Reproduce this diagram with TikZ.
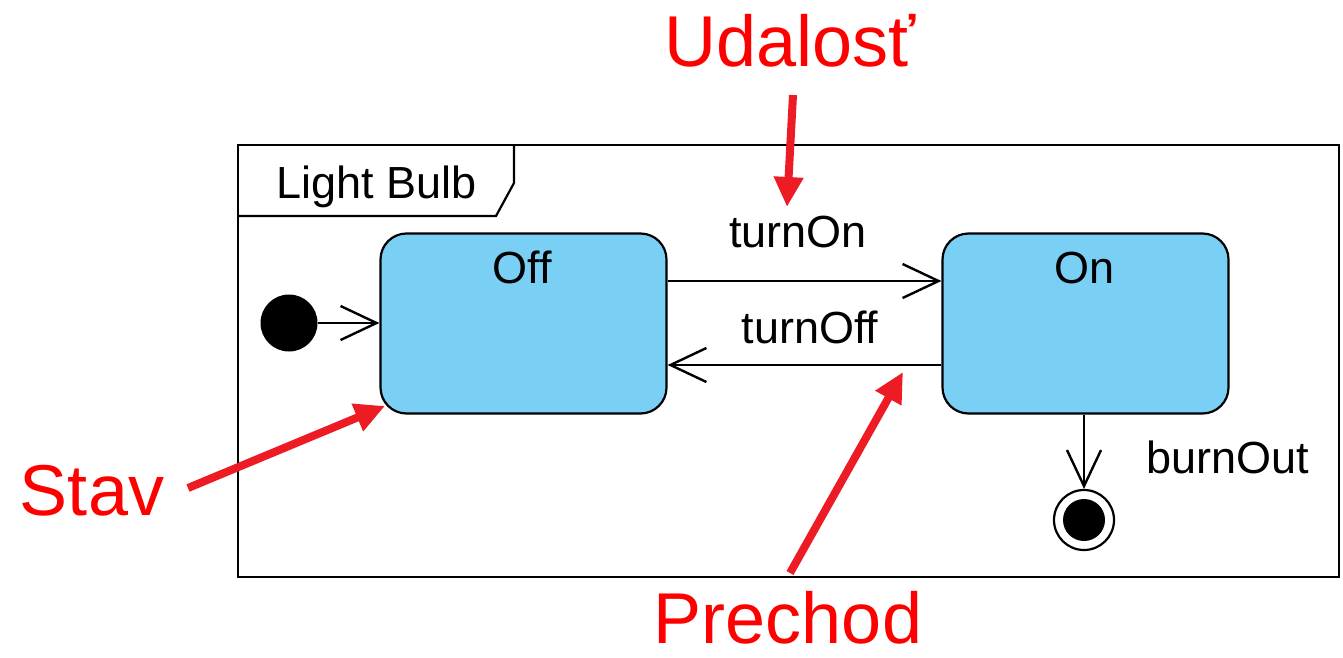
\documentclass[tikz,border=0pt]{standalone}
\usepackage{fontspec}
\setmainfont{Liberation Sans}
\usetikzlibrary{arrows.meta}
\definecolor{stateblue}{HTML}{7ACFF4}
\definecolor{annred}{HTML}{FF0000}
\definecolor{arrred}{HTML}{ED1C24}
\tikzset{
  lbl/.style={font=\fontsize{45}{50}\selectfont, inner sep=0pt, anchor=base},
  annlbl/.style={font=\fontsize{72}{80}\selectfont, text=annred, inner sep=0pt, anchor=base},
  statebox/.style={draw=black, line width=2.2pt, fill=stateblue, rounded corners=26pt, minimum width=286pt, minimum height=180pt, inner sep=0pt},
  trans/.style={draw=black, line width=2.4pt, -{Straight Barb[length=36pt,width=34pt,line width=2.4pt]}},
  annarrow/.style={draw=arrred, line width=8pt, -{Triangle[length=30pt,width=28pt]}},
}
\begin{document}
\begin{tikzpicture}[x=1pt,y=-1pt]
\useasboundingbox (0,0) rectangle (1343,658);
% frame
\node[draw=black, line width=2.2pt, minimum width=1101pt, minimum height=432pt, inner sep=0pt, anchor=north west] (frame) at (237,144) {};
\draw[line width=2.2pt] (237,216) -- (496,216) -- (514,183) -- (514,144);
\node[lbl] (title) at (377,198) {Light Bulb};
% states
\node[statebox] (off) at (523.5,323.5) {};
\node[statebox] (on) at (1085.5,323.5) {};
\node[lbl] (offtxt) at (522,283) {Off};
\node[lbl] (ontxt) at (1084,283) {On};
% initial and final
\node[circle, fill=black, minimum size=57pt, inner sep=0pt] (init) at (289,323) {};
\node[circle, draw=black, line width=2.2pt, minimum size=60pt, inner sep=0pt] (final) at (1084,520) {};
\node[circle, fill=black, minimum size=42pt, inner sep=0pt] (finalin) at (1084,520) {};
% transitions
\draw[trans] (init.east) -- (off.west |- init.east);
\coordinate (a1) at (off.east |- 0,281);
\coordinate (a2) at (on.west |- 0,281);
\draw[trans] (a1) -- (a2);
\coordinate (b1) at (on.west |- 0,365);
\coordinate (b2) at (off.east |- 0,365);
\draw[trans] (b1) -- (b2);
\draw[trans] (on.south -| final.north) -- (final.north);
\node[lbl] (ton) at (798,247) {turnOn};
\node[lbl] (toff) at (810,343) {turnOff};
\node[lbl] (bout) at (1228,473) {burnOut};
% annotations
\node[annlbl] (udal) at (790,67) {Udalosť};
\node[annlbl] (stav) at (92,515) {Stav};
\node[annlbl] (prech) at (788,643) {Prechod};
\coordinate (u1) at (793,95);
\coordinate (u2) at (787,207);
\draw[annarrow] (u1) -- (u2);
\coordinate (s1) at (188,488);
\coordinate (s2) at (385,406);
\draw[annarrow] (s1) -- (s2);
\coordinate (p1) at (790,573);
\coordinate (p2) at (903,372);
\draw[annarrow] (p1) -- (p2);
\end{tikzpicture}
\end{document}
